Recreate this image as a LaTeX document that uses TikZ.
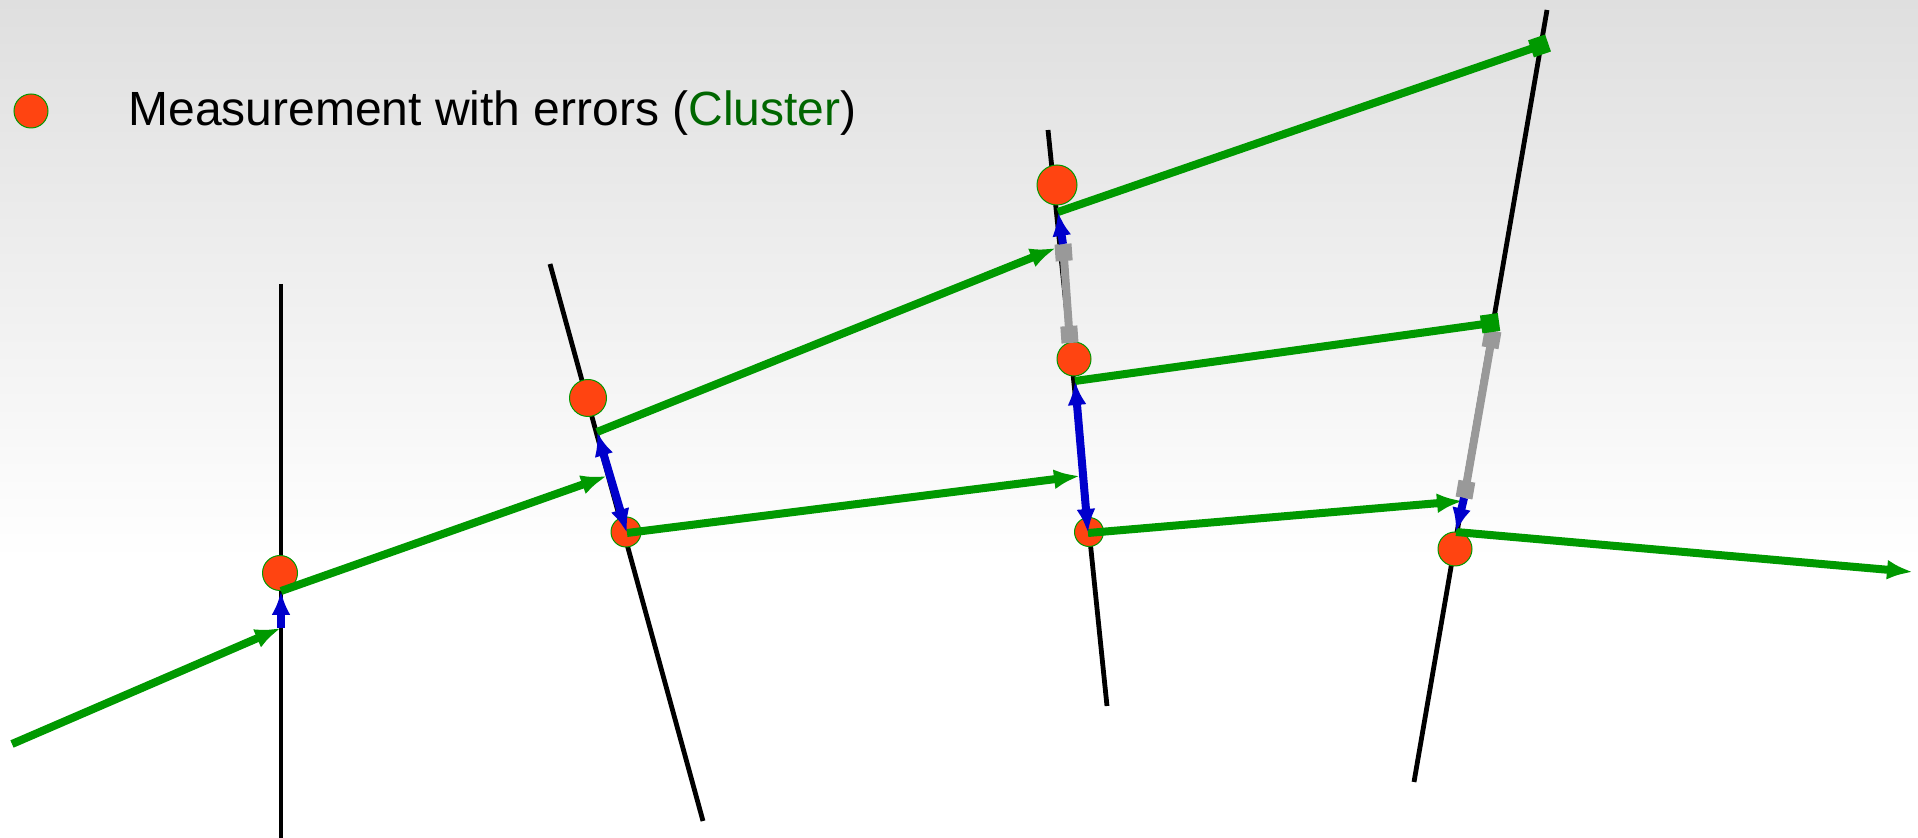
\documentclass[tikz,border=0pt]{standalone}
\usepackage{fontspec}
\setmainfont{Liberation Sans}
\usetikzlibrary{arrows.meta}
\definecolor{trkgreen}{RGB}{0,153,0}
\definecolor{hitred}{RGB}{255,68,17}
\definecolor{updblue}{RGB}{0,0,204}
\definecolor{gapgray}{RGB}{153,153,153}
\definecolor{clusgreen}{RGB}{0,102,0}
\definecolor{bgtop}{RGB}{223,223,223}
\begin{document}
\begin{tikzpicture}[x=0.5pt, y=-0.5pt, font=\fontsize{24}{28}\selectfont,
    det/.style={draw=black, line width=2.4pt},
    meas/.style={circle, fill=hitred, draw=trkgreen, line width=0.5pt, inner sep=0pt, minimum size=#1},
    meas/.default=17pt,
    track/.style={draw=trkgreen, line width=4pt, -{Latex[length=13pt, width=10pt]}},
    trackend/.style={draw=trkgreen, line width=4pt, -{Square[length=9pt, width=9pt]}},
    update/.style={draw=updblue, line width=4pt, -{Latex[length=12pt, width=9.5pt]}},
    bothupd/.style={update, {Latex[length=12pt, width=9.5pt]}-{Latex[length=12pt, width=9.5pt]}},
    gap/.style={draw=gapgray, line width=4pt, {Square[length=8.5pt, width=8.5pt]}-{Square[length=8.5pt, width=8.5pt]}}]
  \useasboundingbox (0,0) rectangle (1918,838);
  \fill[white] (0,0) rectangle (1918,838);
  \shade[top color=bgtop, bottom color=white] (0,0) rectangle (1918,560);

  % legend
  \node[meas] (key) at (31,111) {};
  \node[anchor=base west, inner sep=0pt] (keytext) at (128,126) {Measurement with errors (\textcolor{clusgreen}{Cluster})};

  % detector planes
  \coordinate (d1a) at (281,284);  \coordinate (d1b) at (281,838);
  \coordinate (d2a) at (550,264);  \coordinate (d2b) at (703,821);
  \coordinate (d3a) at (1048,130); \coordinate (d3b) at (1107,706);
  \coordinate (d4a) at (1547,10);  \coordinate (d4b) at (1414,782);
  \draw[det] (d1a) -- (d1b);
  \draw[det] (d2a) -- (d2b);
  \draw[det] (d3a) -- (d3b);
  \draw[det] (d4a) -- (d4b);

  % measurements
  \node[meas=17.5pt] (m1) at (280,573) {};
  \node[meas=18.5pt] (m2) at (588,398) {};
  \node[meas=15pt]   (m3) at (626,532) {};
  \node[meas=20pt]   (m4) at (1057,185) {};
  \node[meas=17pt]   (m5) at (1074,359) {};
  \node[meas=14.5pt] (m6) at (1089,532) {};
  \node[meas=17pt]   (m7) at (1455,549) {};

  % track states
  \coordinate (start) at (12,744);
  \coordinate (p1)  at (281,628);
  \coordinate (f1)  at (281,591);
  \coordinate (p2)  at (607,476);
  \coordinate (f2a) at (597,432);
  \coordinate (f2b) at (627,533);
  \coordinate (p3a) at (1056,248);
  \coordinate (g3a) at (1063,244);
  \coordinate (g3b) at (1070,343);
  \coordinate (f3a) at (1058,212);
  \coordinate (p3b) at (1080,476);
  \coordinate (f3b) at (1075,381);
  \coordinate (f3c) at (1088,533);
  \coordinate (p4a) at (1548,43);
  \coordinate (p4b) at (1499,322);
  \coordinate (g4a) at (1493,331);
  \coordinate (g4b) at (1464,498);
  \coordinate (p4c) at (1463,501);
  \coordinate (f4c) at (1456,532);
  \coordinate (stop) at (1913,572);

  \draw[gap] (g3a) -- (g3b);
  \draw[gap] (g4a) -- (g4b);

  \draw[track] (start) -- (p1);
  \draw[track] (f1) -- (p2);
  \draw[track] (f2a) -- (p3a);
  \draw[track] (f2b) -- (p3b);
  \draw[trackend] (f3a) -- (p4a);
  \draw[trackend] (f3b) -- (p4b);
  \draw[track] (f3c) -- (p4c);
  \draw[track] (f4c) -- (stop);

  \draw[update] (p1) -- (f1);
  \draw[bothupd] (f2a) -- (f2b);
  \draw[update] (g3a) -- (f3a);
  \draw[bothupd] (f3b) -- (f3c);
  \draw[update] (g4b) -- (f4c);
\end{tikzpicture}
\end{document}
